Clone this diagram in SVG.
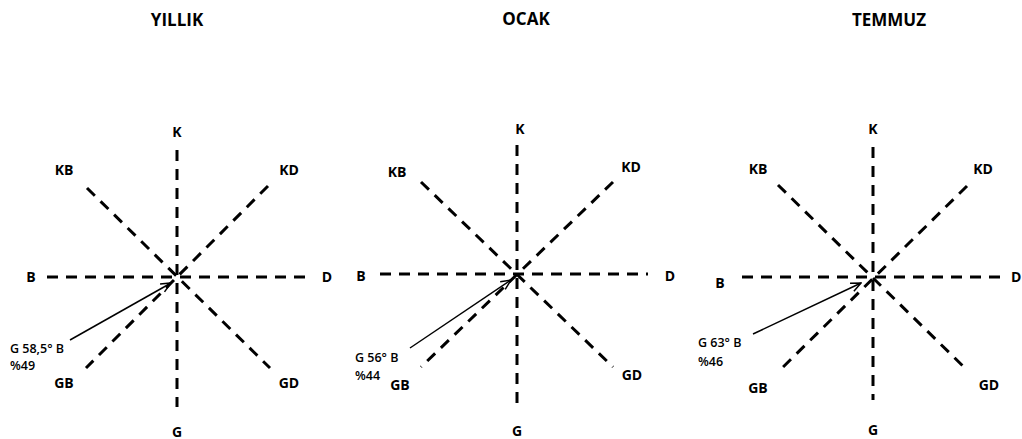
<svg xmlns="http://www.w3.org/2000/svg" width="1022" height="439" viewBox="0 0 1022 439">
<style>
.t{font-family:"Open Sans","Liberation Sans",sans-serif;font-weight:700;font-size:17px;fill:#000;text-anchor:middle}
.l{font-family:"Open Sans","Liberation Sans",sans-serif;font-weight:700;font-size:14px;fill:#000;text-anchor:middle}
.a{font-family:"Open Sans","Liberation Sans",sans-serif;font-weight:600;font-size:12.5px;fill:#000}
.d{stroke:#000;stroke-width:3;stroke-dasharray:11 8;fill:none}
.ar{stroke:#000;stroke-width:1.5;fill:none}
</style>
<defs>
<marker id="ah" viewBox="0 0 12 12" refX="11" refY="6" markerWidth="12" markerHeight="12" markerUnits="userSpaceOnUse" orient="auto">
<path d="M1,1.5 L11,6 L1,10.5" fill="none" stroke="#000" stroke-width="1.5"/>
</marker>
</defs>
<rect width="1022" height="439" fill="#fff"/>
<g id="titles">
<text class="t" x="177" y="26">YILLIK</text>
<text class="t" x="526" y="25">OCAK</text>
<text class="t" x="889" y="26">TEMMUZ</text>
</g>
<g id="connectors">
<line class="d" x1="177" y1="150" x2="177" y2="407"/>
<line class="d" x1="47" y1="277" x2="307" y2="277"/>
<line class="d" x1="87" y1="188" x2="270" y2="368"/>
<line class="d" x1="268" y1="186" x2="86" y2="368"/>
<line class="ar" x1="70" y1="340" x2="171" y2="283" marker-end="url(#ah)"/>
<line class="d" x1="517" y1="145" x2="517" y2="403"/>
<line class="d" x1="380" y1="274" x2="648" y2="274"/>
<line class="d" x1="421" y1="182" x2="613" y2="367"/>
<line class="d" x1="613" y1="182" x2="421" y2="367"/>
<line class="ar" x1="410" y1="348" x2="511" y2="280" marker-end="url(#ah)"/>
<line class="d" x1="873" y1="147" x2="873" y2="400"/>
<line class="d" x1="742" y1="277" x2="1007" y2="277"/>
<line class="d" x1="778" y1="185" x2="967" y2="370"/>
<line class="d" x1="967" y1="186" x2="780" y2="370"/>
<line class="ar" x1="753" y1="334" x2="861" y2="283" marker-end="url(#ah)"/>
</g>
<g id="rose-yillik">
<text class="l" x="177" y="137">K</text>
<text class="l" x="64" y="175">KB</text>
<text class="l" x="289" y="175">KD</text>
<text class="l" x="31" y="282">B</text>
<text class="l" x="327" y="282">D</text>
<text class="l" x="64" y="388">GB</text>
<text class="l" x="289" y="388">GD</text>
<text class="l" x="177" y="437">G</text>
<text class="a" x="10" y="353">G 58,5° B</text>
<text class="a" x="10" y="370">%49</text>
</g>
<g id="rose-ocak">
<text class="l" x="520" y="134">K</text>
<text class="l" x="397" y="177">KB</text>
<text class="l" x="631" y="172">KD</text>
<text class="l" x="361" y="281">B</text>
<text class="l" x="670" y="281">D</text>
<text class="l" x="400" y="390">GB</text>
<text class="l" x="632" y="380">GD</text>
<text class="l" x="517" y="436">G</text>
<text class="a" x="355" y="362">G 56° B</text>
<text class="a" x="355" y="380">%44</text>
</g>
<g id="rose-temmuz">
<text class="l" x="873" y="134">K</text>
<text class="l" x="758" y="174">KB</text>
<text class="l" x="983" y="174">KD</text>
<text class="l" x="720" y="288">B</text>
<text class="l" x="1011" y="282" style="text-anchor:start">D</text>
<text class="l" x="758" y="393">GB</text>
<text class="l" x="989" y="390">GD</text>
<text class="l" x="873" y="435">G</text>
<text class="a" x="698" y="347">G 63° B</text>
<text class="a" x="698" y="366">%46</text>
</g>
</svg>
